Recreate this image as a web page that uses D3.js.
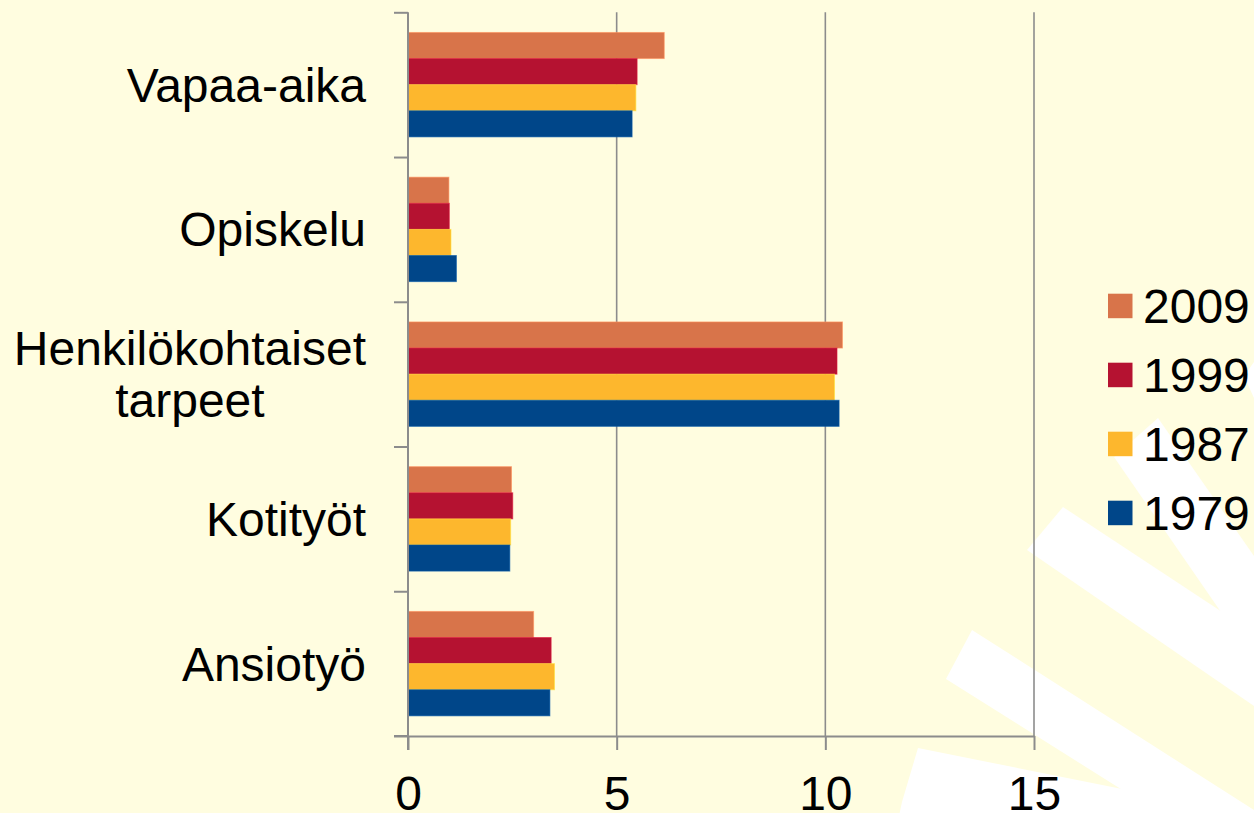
<!DOCTYPE html>
<html>
<head>
<meta charset="utf-8">
<script src="https://cdn.jsdelivr.net/npm/d3@7"></script>
<style>
  html, body { margin: 0; padding: 0; background: #FFFDE0; }
  svg { display: block; }
  text { font-family: "Liberation Sans", Arial, sans-serif; fill: #000; }
</style>
</head>
<body>
<script>
// ---- data ----
const categories = ["Vapaa-aika", "Opiskelu", "Henkilökohtaiset\ntarpeet", "Kotityöt", "Ansiotyö"];
const years = ["2009", "1999", "1987", "1979"];
const v2009 = [6.14, 0.98, 10.41, 2.48, 3.01];
const v1999 = [5.49, 0.99, 10.28, 2.51, 3.43];
const v1987 = [5.46, 1.03, 10.22, 2.46, 3.51];
const v1979 = [5.37, 1.16, 10.33, 2.44, 3.40];
const xTicks = [0, 5, 10, 15];
const colors = ["#D8744A", "#B51231", "#FDB72D", "#004689"];

(function () {
const seriesValues = [v2009, v1999, v1987, v1979];
const W = 1254, H = 813;
const svg = d3.select("body").append("svg").attr("width", W).attr("height", H);

svg.append("rect").attr("width", W).attr("height", H).attr("fill", "#FFFDE0");

// decorative white rays (background)
const rays = [
  [[1158,418],[1254,556],[1254,680],[1223,615],[1114,457]],
  [[1063,507],[1254,633],[1254,706],[1027,550]],
  [[972,630],[1254,810],[1254,813],[1159,813],[946,679]],
  [[918,748],[1262,817],[1262,830],[896,830],[902,802]],
  [[1244,376],[1254,362],[1254,398]]
];
svg.append("g").selectAll("polygon").data(rays).join("polygon")
  .attr("points", d => d.map(p => p.join(",")).join(" "))
  .attr("fill", "#FFFFFF");

const pLeft = 408, pRight = 1034, pTop = 12.3, pBottom = 736;
const x = d3.scaleLinear().domain([0, 15]).range([pLeft, pRight]);
const y = d3.scaleBand().domain(categories).range([pTop, pBottom]).paddingInner(0).paddingOuter(0);
const y1 = d3.scaleBand().domain(years).range([0, y.bandwidth()]).paddingInner(0).paddingOuter(0.772);
const yBound = d3.scaleLinear().domain([0, categories.length]).range([pTop, pBottom]);

const gridColor = "#8C8C8C";
// gridlines
svg.append("g").selectAll("line").data(xTicks.filter(t => t > 0)).join("line")
  .attr("x1", d => x(d)).attr("x2", d => x(d))
  .attr("y1", pTop).attr("y2", pBottom)
  .attr("stroke", gridColor).attr("stroke-width", 1.6);

// bars
const rows = [];
categories.forEach((c, i) => years.forEach((yr, j) => rows.push({c, yr, v: seriesValues[j][i], col: colors[j]})));
svg.append("g").selectAll("rect").data(rows).join("rect")
  .attr("x", x(0))
  .attr("y", d => y(d.c) + y1(d.yr))
  .attr("width", d => x(d.v) - x(0))
  .attr("height", y1.bandwidth())
  .attr("fill", d => d.col)
  .attr("stroke", d => d3.color(d.col).brighter(0.6))
  .attr("stroke-opacity", 0.6)
  .attr("stroke-width", 1);

// y axis (ticks at band boundaries)
const yAx = svg.append("g").attr("transform", `translate(${pLeft},0)`)
  .call(d3.axisLeft(yBound).ticks(categories.length).tickSize(14).tickSizeOuter(0).tickFormat(""));
yAx.select(".domain").remove();
yAx.selectAll("line").attr("stroke", gridColor).attr("stroke-width", 2);
svg.append("line").attr("x1", pLeft).attr("x2", pLeft).attr("y1", pTop).attr("y2", pBottom + 14)
  .attr("stroke", gridColor).attr("stroke-width", 2);

// x axis
const xAx = svg.append("g").attr("transform", `translate(0,${pBottom})`)
  .call(d3.axisBottom(x).tickValues(xTicks).tickSize(14).tickSizeOuter(0).tickPadding(26));
xAx.select(".domain").attr("stroke", gridColor).attr("stroke-width", 2);
xAx.selectAll("line").attr("stroke", gridColor).attr("stroke-width", 2);
xAx.selectAll("text").attr("font-size", 48).attr("fill", "#000");
svg.append("line").attr("x1", pLeft - 14).attr("x2", pLeft).attr("y1", pBottom).attr("y2", pBottom)
  .attr("stroke", gridColor).attr("stroke-width", 2);

// category labels (multi-line labels are centred within a right-aligned block)
const labelRight = 366, lh = 52;
const lab = svg.append("g").selectAll("text").data(categories).join("text")
  .attr("font-size", 48)
  .attr("text-anchor", "middle")
  .attr("y", d => y(d) + y.bandwidth() / 2 + 17);
lab.each(function(d) {
  const lines = d.split("\n");
  const t = d3.select(this);
  lines.forEach((ln, k) => {
    t.append("tspan")
      .attr("dy", k === 0 ? -(lines.length - 1) * lh / 2 : lh)
      .text(ln);
  });
  let maxW = 0;
  t.selectAll("tspan").each(function() { maxW = Math.max(maxW, this.getComputedTextLength()); });
  t.selectAll("tspan").attr("x", labelRight - maxW / 2);
});

// legend
const legendY = d3.scalePoint().domain(years).range([306, 513]);
const lg = svg.append("g").selectAll("g").data(years).join("g")
  .attr("transform", d => `translate(1108,${legendY(d)})`);
lg.append("rect").attr("x", 0).attr("y", -12.3).attr("width", 24.5).attr("height", 24.5)
  .attr("fill", (d, i) => colors[i]);
lg.append("text").attr("x", 35).attr("y", 17).attr("font-size", 48).text(d => d);
})();
</script>
</body>
</html>
